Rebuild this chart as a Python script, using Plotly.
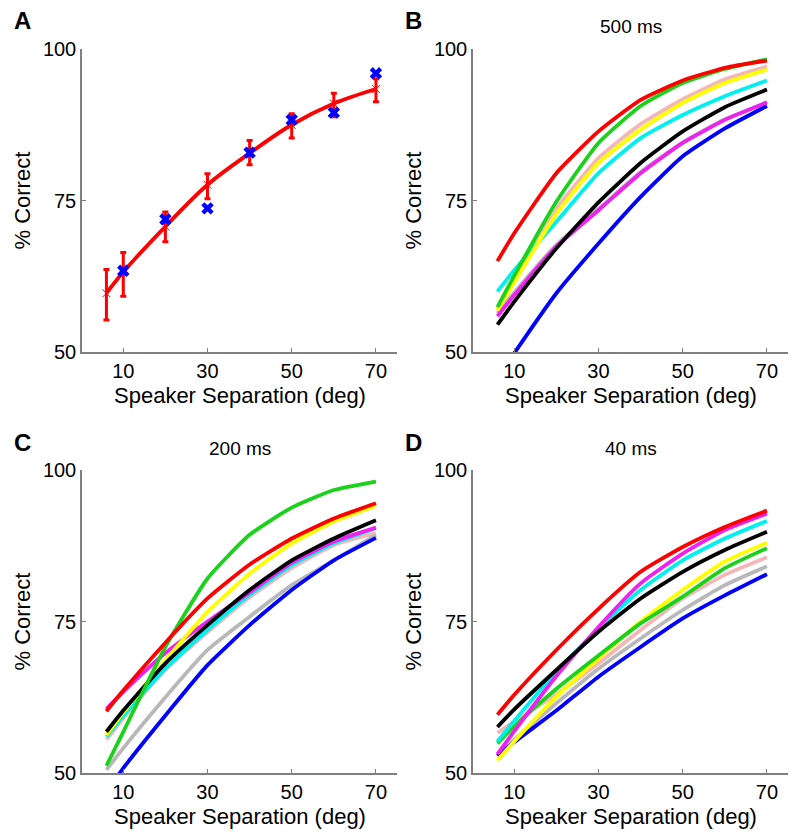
import plotly.graph_objects as go

W, H = 800, 839

# ---------------- data ----------------
sep = [6, 10, 20, 30, 40, 50, 60, 70]

# Panel A
a_mean = [59.7, 63.2, 70.7, 77.6, 82.8, 87.5, 91.0, 93.4]
a_upper = [63.6, 66.4, 73.1, 79.4, 84.9, 89.3, 92.7, 95.1]
a_lower = [55.3, 59.2, 68.2, 75.3, 80.9, 85.3, 88.8, 91.3]
a_obs_x = [10, 20, 30, 40, 50, 60, 70]
a_obs = [63.4, 71.9, 73.7, 82.9, 88.3, 89.5, 96.0]

# Panel B (500 ms)
b_series = {
    "pink":    [57.0, 62.0, 73.6, 82.0, 87.6, 91.7, 95.0, 97.1],
    "gray":    [56.4, 59.8, 67.7, 73.6, 79.7, 84.6, 88.4, 91.0],
    "blue":    [45.6, 49.8, 59.7, 67.9, 75.6, 82.3, 86.9, 90.6],
    "magenta": [55.9, 59.4, 67.4, 73.4, 79.5, 84.5, 88.3, 91.2],
    "cyan":    [60.0, 63.5, 71.5, 79.5, 85.3, 89.1, 92.2, 94.8],
    "yellow":  [56.9, 61.5, 72.8, 81.2, 86.7, 91.1, 94.4, 96.6],
    "green":   [57.4, 62.6, 74.8, 84.5, 90.6, 94.4, 96.7, 98.3],
    "black":   [54.5, 58.3, 67.1, 74.7, 81.2, 86.4, 90.4, 93.3],
    "red":     [65.0, 69.6, 79.5, 86.4, 91.6, 94.8, 96.9, 98.1],
}

# Panel C (200 ms)
c_series = {
    "pink":    [55.5, 59.0, 67.0, 73.2, 79.0, 83.8, 87.6, 89.6],
    "gray":    [50.5, 54.1, 62.5, 70.3, 75.8, 81.0, 85.1, 89.3],
    "blue":    [46.8, 50.8, 59.5, 67.8, 74.4, 80.2, 85.1, 88.8],
    "cyan":    [56.0, 59.4, 67.2, 73.6, 79.4, 84.3, 87.9, 90.4],
    "magenta": [60.6, 63.4, 69.8, 75.0, 79.8, 84.7, 88.2, 90.5],
    "yellow":  [56.3, 60.0, 68.6, 76.6, 82.9, 87.9, 91.5, 94.1],
    "black":   [56.8, 60.3, 68.1, 74.4, 80.2, 85.1, 88.7, 91.7],
    "green":   [51.2, 56.8, 70.8, 82.1, 89.3, 93.8, 96.7, 98.1],
    "red":     [60.2, 63.6, 71.5, 78.8, 84.4, 88.7, 92.0, 94.5],
}

# Panel D (40 ms)
d_series = {
    "pink":    [56.6, 58.5, 63.0, 68.1, 73.6, 78.8, 82.7, 85.6],
    "gray":    [53.0, 55.5, 61.5, 67.2, 72.2, 76.9, 81.0, 84.1],
    "blue":    [52.8, 55.1, 60.3, 65.9, 70.8, 75.5, 79.3, 82.8],
    "yellow":  [52.1, 55.2, 62.6, 68.9, 75.0, 80.2, 84.9, 88.0],
    "green":   [54.9, 57.7, 63.9, 69.4, 74.7, 79.1, 83.8, 87.1],
    "cyan":    [55.2, 58.6, 66.7, 73.8, 80.2, 85.1, 88.7, 91.6],
    "magenta": [53.1, 56.9, 66.0, 74.1, 81.3, 86.2, 90.1, 92.8],
    "black":   [57.6, 60.5, 67.0, 73.3, 78.8, 83.2, 86.8, 89.8],
    "red":     [59.6, 62.9, 70.3, 77.1, 83.2, 87.3, 90.6, 93.3],
}

x_ticks = [10, 30, 50, 70]
y_ticks = [50, 75, 100]
panel_titles = {"B": "500 ms", "C": "200 ms", "D": "40 ms"}
x_title = "Speaker Separation (deg)"
y_title = "% Correct"

colors = {
    "red": "#ff0000", "green": "#19d219", "blue": "#0000ff", "cyan": "#00f0f0",
    "yellow": "#ffff00", "magenta": "#f020f0", "black": "#000000",
    "pink": "#f4b6b6", "gray": "#b8b8b8",
}

FONT = "Liberation Sans, Arial, sans-serif"

def px(x):
    return x / W

def py(y):
    return 1 - y / H

# axes pixel boxes (left, right, top, bottom)
boxes = {
    "A": (82, 397, 49, 352),
    "B": (473, 788, 49, 352),
    "C": (82, 397, 470, 773),
    "D": (473, 788, 470, 773),
}
axis_ids = {"A": "", "B": "2", "C": "3", "D": "4"}

fig = go.Figure()

# Panel A
fig.add_trace(go.Scatter(
    x=sep, y=a_mean, mode="lines+markers",
    line=dict(color="#ff0000", width=3.8, shape="spline", smoothing=1),
    marker=dict(symbol="x-thin-open", size=8, line=dict(color="#ff7070", width=1)),
    error_y=dict(type="data", symmetric=False,
                 array=[u - m for u, m in zip(a_upper, a_mean)],
                 arrayminus=[m - l for m, l in zip(a_mean, a_lower)],
                 color="#ff0000", thickness=3, width=3),
    xaxis="x", yaxis="y", showlegend=False))
fig.add_trace(go.Scatter(
    x=a_obs_x, y=a_obs, mode="markers",
    marker=dict(symbol="x", size=11, color="#0000ff", line=dict(width=0)),
    xaxis="x", yaxis="y", showlegend=False))

for key, series in (("B", b_series), ("C", c_series), ("D", d_series)):
    aid = axis_ids[key]
    for name, vals in series.items():
        fig.add_trace(go.Scatter(
            x=sep, y=vals, mode="lines",
            line=dict(color=colors[name], width=3.8, shape="spline", smoothing=0.5),
            xaxis="x" + aid, yaxis="y" + aid, showlegend=False))

layout = dict(
    width=W, height=H, margin=dict(l=0, r=0, t=0, b=0, pad=0, autoexpand=False),
    paper_bgcolor="white", plot_bgcolor="white",
    font=dict(family=FONT, color="black", size=20),
)

annotations = []
for key, (l, r, t, b) in boxes.items():
    aid = axis_ids[key]
    common = dict(showgrid=False, zeroline=False, showline=True, automargin=False,
                  linecolor="#7f7f7f", linewidth=1.5, ticks="inside",
                  ticklen=4, tickwidth=1.2, tickcolor="#7f7f7f",
                  tickfont=dict(size=20, family=FONT, color="black"))
    layout["xaxis" + aid] = dict(domain=[px(l), px(r)], range=[0.2, 75],
                                 tickvals=x_ticks, anchor="y" + aid, **common)
    layout["yaxis" + aid] = dict(domain=[py(b), py(t)], range=[50, 100],
                                 tickvals=y_ticks, anchor="x" + aid, **common)
    cx = (l + r) / 2
    cy = (t + b) / 2
    annotations.append(dict(text=x_title, x=px(cx), y=py(b + 43), xref="paper", yref="paper",
                            showarrow=False, font=dict(size=22, family=FONT),
                            xanchor="center", yanchor="middle"))
    annotations.append(dict(text=y_title, x=px(l - 60), y=py(cy), xref="paper", yref="paper",
                            showarrow=False, textangle=-90, font=dict(size=22, family=FONT),
                            xanchor="center", yanchor="middle"))
    annotations.append(dict(text="<b>" + key + "</b>", x=px(l - 60), y=py(t - 28),
                            xref="paper", yref="paper", showarrow=False,
                            font=dict(size=24, family=FONT), xanchor="center", yanchor="middle"))
    if key in panel_titles:
        annotations.append(dict(text=panel_titles[key], x=px(cx), y=py(t - 22),
                                xref="paper", yref="paper", showarrow=False,
                                font=dict(size=19, family=FONT), xanchor="center", yanchor="middle"))

layout["annotations"] = annotations
fig.update_layout(**layout)
fig.write_html("out.html", config={"displayModeBar": False},
               post_script="document.body.style.margin='0';document.body.style.overflow='hidden';")
